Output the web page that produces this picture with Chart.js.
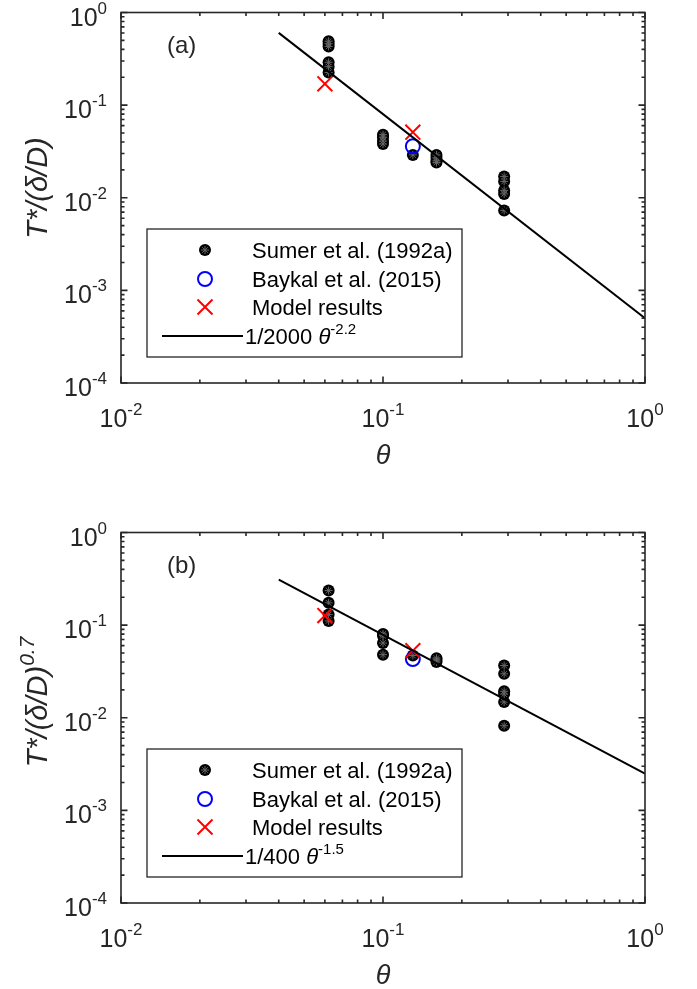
<!DOCTYPE html>
<html><head><meta charset="utf-8">
<script src="https://cdn.jsdelivr.net/npm/chart.js@4/dist/chart.umd.min.js"></script>
<style>body{margin:0;background:#fff;width:697px;height:989px;overflow:hidden;} canvas{position:absolute;left:0;}</style>
</head><body>
<canvas id="ca" width="697" height="520" style="top:0px"></canvas>
<canvas id="cb" width="697" height="469" style="top:520px"></canvas>
<script>
// ---- tick labels ----
const xTickVals = [0.01, 0.1, 1];
const xTickExps = ['-2', '-1', '0'];
const yTickVals = [1e-4, 1e-3, 1e-2, 1e-1, 1];
const yTickExps = ['-4', '-3', '-2', '-1', '0'];

// ---- legend labels ----
const legendNames = ['Sumer et al. (1992a)', 'Baykal et al. (2015)', 'Model results'];

// ---- panel (a) data ----
const sumerAx = [0.062,0.062,0.062,0.062,0.062,0.062, 0.1,0.1,0.1,0.1, 0.13, 0.16,0.16,0.16,0.16, 0.29,0.29,0.29,0.29,0.29];
const sumerAy = [0.49,0.46,0.43,0.29,0.26,0.225, 0.048,0.045,0.041,0.038, 0.029, 0.029,0.027,0.025,0.024, 0.017,0.015,0.012,0.011,0.0073];
const baykalAx = [0.13];
const baykalAy = [0.036];
const modelAx = [0.06, 0.13];
const modelAy = [0.17, 0.051];
const fitAx = [0.04, 1];
const fitAy = [0.603, 0.0005];

// ---- panel (b) data ----
const sumerBx = [0.062,0.062,0.062,0.062, 0.1,0.1,0.1,0.1, 0.13, 0.16,0.16,0.16, 0.29,0.29,0.29,0.29,0.29,0.29];
const sumerBy = [0.236,0.174,0.13,0.111, 0.08,0.077,0.064,0.048, 0.047, 0.044,0.042,0.040, 0.0366,0.0298,0.0193,0.018,0.0148,0.0082];
const baykalBx = [0.13];
const baykalBy = [0.043];
const modelBx = [0.06, 0.13];
const modelBy = [0.127, 0.053];
const fitBx = [0.04, 1];
const fitBy = [0.31, 0.0025];

const FONT = '"Liberation Sans", Arial, Helvetica, sans-serif';
const AXC = '#262626';

function pts(xs, ys) { return xs.map((x, i) => ({x: x, y: ys[i]})); }

function richWidth(ctx, parts) {
  let w = 0;
  for (const p of parts) { ctx.font = p.f; w += ctx.measureText(p.t).width; }
  return w;
}
function drawRich(ctx, parts, x, y, align) {
  const w = richWidth(ctx, parts);
  let cx = align === 'center' ? x - w / 2 : (align === 'right' ? x - w : x);
  ctx.textAlign = 'left';
  ctx.textBaseline = 'alphabetic';
  for (const p of parts) {
    ctx.font = p.f;
    ctx.fillText(p.t, cx, y + (p.dy || 0));
    cx += ctx.measureText(p.t).width;
  }
}

function drawSumerMarker(ctx, x, y) {
  ctx.save();
  ctx.fillStyle = '#000';
  ctx.beginPath(); ctx.arc(x, y, 6, 0, Math.PI * 2); ctx.fill();
  ctx.strokeStyle = '#666'; ctx.lineWidth = 1;
  ctx.beginPath();
  const r = 4, d = r * Math.SQRT1_2;
  ctx.moveTo(x - r, y); ctx.lineTo(x + r, y);
  ctx.moveTo(x, y - r); ctx.lineTo(x, y + r);
  ctx.moveTo(x - d, y - d); ctx.lineTo(x + d, y + d);
  ctx.moveTo(x - d, y + d); ctx.lineTo(x + d, y - d);
  ctx.stroke();
  ctx.restore();
}

function makePlugin(p) {
  return {
    id: 'matlabAxes' + p.key,
    afterDraw(chart) {
      const ctx = chart.ctx;
      const xs = chart.scales.x, ys = chart.scales.y;
      const L = chart.chartArea.left, R = chart.chartArea.right, T = chart.chartArea.top, B = chart.chartArea.bottom;
      ctx.save();
      // box
      ctx.strokeStyle = AXC; ctx.lineWidth = 1.6;
      ctx.strokeRect(L, T, R - L, B - T);
      // ticks
      ctx.beginPath();
      for (let e = -2; e <= 0; e++) {
        for (let m = 1; m <= 9; m++) {
          const v = m * Math.pow(10, e);
          if (v > 1.0001) continue;
          const px = xs.getPixelForValue(v);
          const len = m === 1 ? 6.5 : 3.5;
          ctx.moveTo(px, B); ctx.lineTo(px, B - len);
          ctx.moveTo(px, T); ctx.lineTo(px, T + len);
        }
      }
      for (let e = -4; e <= 0; e++) {
        for (let m = 1; m <= 9; m++) {
          const v = m * Math.pow(10, e);
          if (v > 1.0001) continue;
          const py = ys.getPixelForValue(v);
          const len = m === 1 ? 6.5 : 3.5;
          ctx.moveTo(L, py); ctx.lineTo(L + len, py);
          ctx.moveTo(R, py); ctx.lineTo(R - len, py);
        }
      }
      ctx.stroke();
      // tick labels
      ctx.fillStyle = AXC;
      const fB = '25px ' + FONT, fS = '17px ' + FONT;
      xTickVals.forEach((v, i) => {
        const px = xs.getPixelForValue(v);
        drawRich(ctx, [{t: '10', f: fB}, {t: xTickExps[i], f: fS, dy: -12}], px, B + 44, 'center');
      });
      yTickVals.forEach((v, i) => {
        const py = ys.getPixelForValue(v);
        drawRich(ctx, [{t: '10', f: fB}, {t: yTickExps[i], f: fS, dy: -12}], L - 14, py + 13, 'right');
      });
      // axis titles
      drawRich(ctx, [{t: 'θ', f: 'italic 27px ' + FONT}], (L + R) / 2, B + 81, 'center');
      ctx.save();
      ctx.translate(47, p.yTitleCenter);
      ctx.rotate(-Math.PI / 2);
      drawRich(ctx, p.yTitle, 0, 0, 'center');
      ctx.restore();
      // panel label
      ctx.font = '24px ' + FONT; ctx.textAlign = 'left'; ctx.textBaseline = 'alphabetic';
      ctx.fillText(p.label, 167, T + 40);
      // legend
      const lx = 147, ly = 229, lw = 315, lh = 128;
      ctx.fillStyle = '#fff';
      ctx.fillRect(lx, ly, lw, lh);
      ctx.strokeStyle = AXC; ctx.lineWidth = 1.3;
      ctx.strokeRect(lx, ly, lw, lh);
      const rows = [250, 279, 307, 336];
      const mx = 205, tx = 252;
      drawSumerMarker(ctx, mx, rows[0]);
      ctx.strokeStyle = '#0000ff'; ctx.lineWidth = 2;
      ctx.beginPath(); ctx.arc(mx, rows[1], 7, 0, Math.PI * 2); ctx.stroke();
      ctx.strokeStyle = '#ff0000'; ctx.lineWidth = 2;
      ctx.beginPath();
      ctx.moveTo(mx - 7.5, rows[2] - 7.5); ctx.lineTo(mx + 7.5, rows[2] + 7.5);
      ctx.moveTo(mx - 7.5, rows[2] + 7.5); ctx.lineTo(mx + 7.5, rows[2] - 7.5);
      ctx.stroke();
      ctx.strokeStyle = '#000'; ctx.lineWidth = 2;
      ctx.beginPath(); ctx.moveTo(162, rows[3]); ctx.lineTo(243, rows[3]); ctx.stroke();
      ctx.fillStyle = '#000';
      const fL = '22px ' + FONT;
      for (let i = 0; i < 3; i++) drawRich(ctx, [{t: legendNames[i], f: fL}], tx, rows[i] + 8, 'left');
      drawRich(ctx, p.fitLabel, tx - 7, rows[3] + 8, 'left');
      ctx.restore();
    }
  };
}

function makeChart(id, d, pad, plugin) {
  const sumer = pts(d.sx, d.sy);
  return new Chart(document.getElementById(id), {
    type: 'scatter',
    data: {
      datasets: [
        {label: legendNames[0], data: sumer, pointStyle: 'circle', pointRadius: 6, backgroundColor: '#000', borderColor: '#000', borderWidth: 0, order: 5},
        {label: legendNames[0] + ' *', data: sumer, pointStyle: 'star', pointRadius: 4, backgroundColor: 'rgba(0,0,0,0)', borderColor: '#666', borderWidth: 1, order: 4},
        {label: legendNames[1], data: pts(d.bx, d.by), pointStyle: 'circle', pointRadius: 7, backgroundColor: 'rgba(0,0,0,0)', borderColor: '#0000ff', borderWidth: 2, order: 3},
        {label: legendNames[2], data: pts(d.mx, d.my), pointStyle: 'crossRot', pointRadius: 10.5, borderColor: '#ff0000', borderWidth: 2, order: 2},
        {label: 'fit', type: 'line', data: pts(d.fx, d.fy), borderColor: '#000', borderWidth: 2, pointRadius: 0, fill: false, tension: 0, order: 1}
      ]
    },
    options: {
      responsive: false, animation: false, devicePixelRatio: 1, events: [],
      layout: {padding: pad},
      plugins: {legend: {display: false}, tooltip: {enabled: false}},
      scales: {
        x: {type: 'logarithmic', min: 0.01, max: 1, display: false},
        y: {type: 'logarithmic', min: 1e-4, max: 1, display: false}
      }
    },
    plugins: [plugin]
  });
}

const titleFont = 'italic 29px ' + FONT;
makeChart('ca',
  {sx: sumerAx, sy: sumerAy, bx: baykalAx, by: baykalAy, mx: modelAx, my: modelAy, fx: fitAx, fy: fitAy},
  {left: 121, top: 7, right: 52, bottom: 137},
  makePlugin({key: 'a', label: '(a)', yTitleCenter: 188,
    yTitle: [{t: 'T*/(δ/D)', f: titleFont}],
    fitLabel: [{t: '1/2000 ', f: '22px ' + FONT}, {t: 'θ', f: 'italic 22px ' + FONT}, {t: '-2.2', f: '15px ' + FONT, dy: -10}]}));
makeChart('cb',
  {sx: sumerBx, sy: sumerBy, bx: baykalBx, by: baykalBy, mx: modelBx, my: modelBy, fx: fitBx, fy: fitBy},
  {left: 121, top: 9, right: 52, bottom: 86},
  makePlugin({key: 'b', label: '(b)', yTitleCenter: 182,
    yTitle: [{t: 'T*/(δ/D)', f: titleFont}, {t: '0.7', f: 'italic 21px ' + FONT, dy: -13}],
    fitLabel: [{t: '1/400 ', f: '22px ' + FONT}, {t: 'θ', f: 'italic 22px ' + FONT}, {t: '-1.5', f: '15px ' + FONT, dy: -10}]}));
</script>
</body></html>
